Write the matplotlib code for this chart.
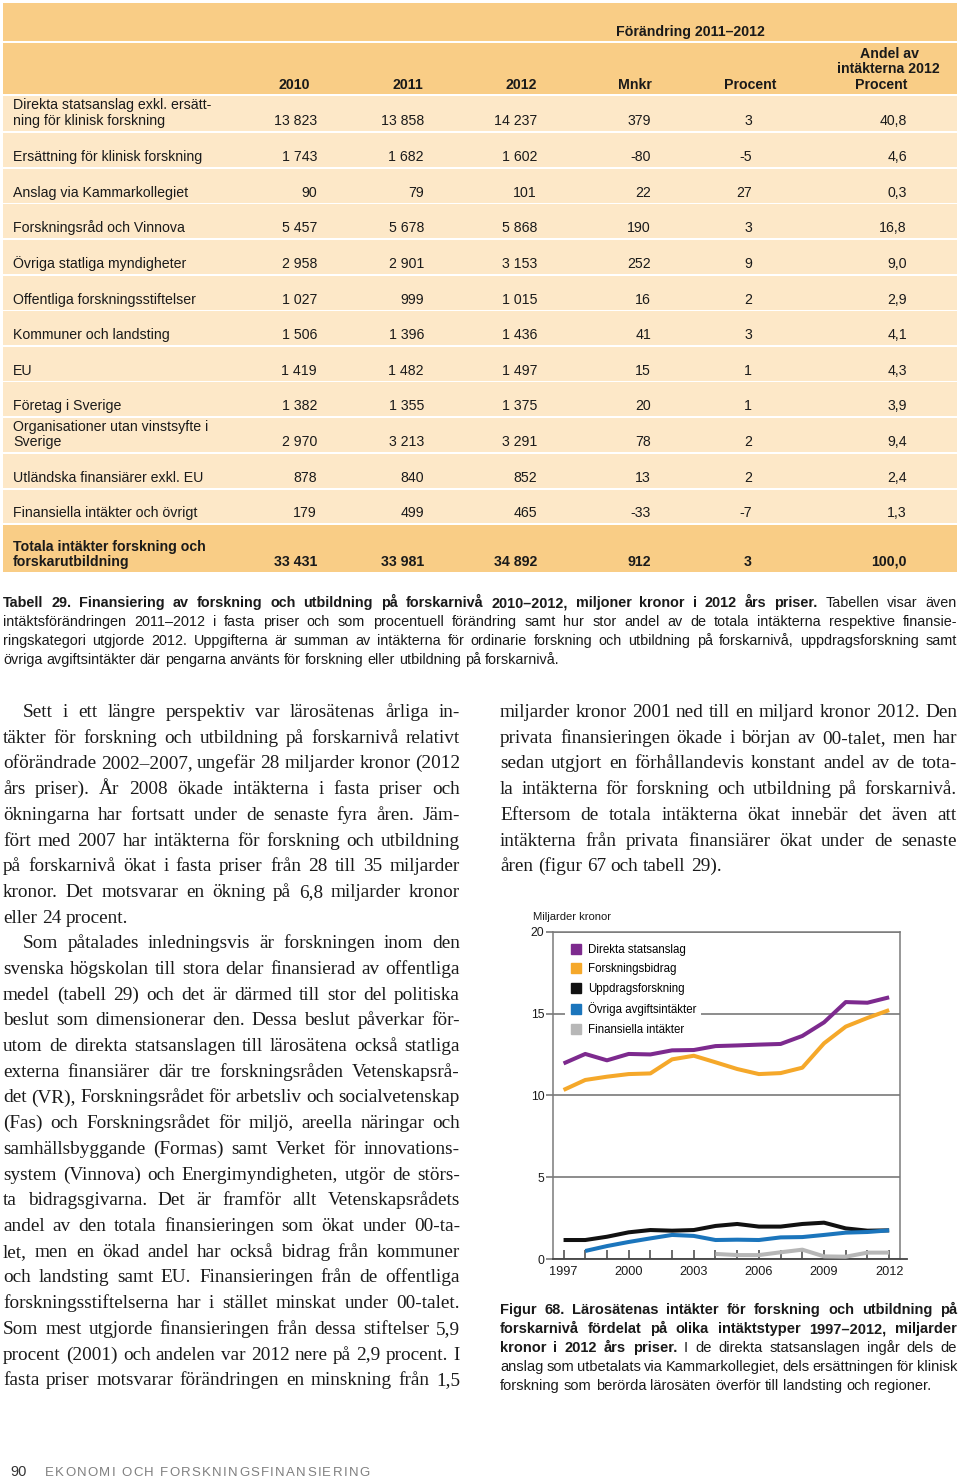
import matplotlib
matplotlib.use("Agg")
import matplotlib.pyplot as plt
from matplotlib.lines import Line2D
from matplotlib.patches import Rectangle

SANS = ["Liberation Sans", "DejaVu Sans"]
SERIF = ["Liberation Serif", "DejaVu Serif"]
plt.rcParams["font.family"] = SANS

W, H = 960, 1477

# ---------------- table data (Tabell 29) ----------------
ROW_LABELS = [
    ["Direkta statsanslag exkl. ersätt-", "ning för klinisk forskning"],
    ["Ersättning för klinisk forskning"],
    ["Anslag via Kammarkollegiet"],
    ["Forskningsråd och Vinnova"],
    ["Övriga statliga myndigheter"],
    ["Offentliga forskningsstiftelser"],
    ["Kommuner och landsting"],
    ["EU"],
    ["Företag i Sverige"],
    ["Organisationer utan vinstsyfte i", "Sverige"],
    ["Utländska finansiärer exkl. EU"],
    ["Finansiella intäkter och övrigt"],
]
V2010 = [13823, 1743, 90, 5457, 2958, 1027, 1506, 1419, 1382, 2970, 878, 179]
V2011 = [13858, 1682, 79, 5678, 2901, 999, 1396, 1482, 1355, 3213, 840, 499]
V2012 = [14237, 1602, 101, 5868, 3153, 1015, 1436, 1497, 1375, 3291, 852, 465]
CHG_MNKR = [379, -80, 22, 190, 252, 16, 41, 15, 20, 78, 13, -33]
CHG_PCT = [3, -5, 27, 3, 9, 2, 3, 1, 1, 2, 2, -7]
SHARE_2012 = [40.8, 4.6, 0.3, 16.8, 9.0, 2.9, 4.1, 4.3, 3.9, 9.4, 2.4, 1.3]
TOTAL_LABEL = ["Totala intäkter forskning och", "forskarutbildning"]
TOTAL = [33431, 33981, 34892, 912, 3, 100.0]
HEADERS = ["2010", "2011", "2012", "Mnkr", "Procent"]

# ---------------- chart data (Figur 68) ----------------
YEARS = [1997, 1998, 1999, 2000, 2001, 2002, 2003, 2004,
         2005, 2006, 2007, 2008, 2009, 2010, 2011, 2012]
DIREKTA = [11.95, 12.53, 12.14, 12.53, 12.50, 12.75, 12.77, 13.01,
           13.05, 13.10, 13.14, 13.63, 14.46, 15.70, 15.66, 15.99]
BIDRAG = [10.33, 10.94, 11.14, 11.30, 11.34, 12.20, 12.42, 12.02,
          11.61, 11.30, 11.36, 11.69, 13.18, 14.20, 14.73, 15.21]
UPPDRAG = [1.16, 1.16, 1.36, 1.63, 1.77, 1.73, 1.77, 2.02,
           2.14, 1.98, 1.98, 2.14, 2.22, 1.87, 1.73, 1.75]
OVRIGA_YEARS = YEARS[1:]
OVRIGA = [0.49, 0.79, 1.04, 1.26, 1.47, 1.41, 1.16,
          1.18, 1.16, 1.32, 1.34, 1.47, 1.61, 1.65, 1.75]
FIN_YEARS = YEARS[7:]
FINANSIELLA = [0.31, 0.24, 0.24, 0.41, 0.57, 0.16, 0.14, 0.39, 0.39]

SERIES = [
    ("Direkta statsanslag", YEARS, DIREKTA, "#7d2a8e"),
    ("Forskningsbidrag", YEARS, BIDRAG, "#f5a82a"),
    ("Uppdragsforskning", YEARS, UPPDRAG, "#111111"),
    ("Övriga avgiftsintäkter", OVRIGA_YEARS, OVRIGA, "#1b75bc"),
    ("Finansiella intäkter", FIN_YEARS, FINANSIELLA, "#b7b7b7"),
]

# ---------------- texts ----------------
TABLE_CAPTION = [
    ("Tabell 29. Finansiering av forskning och utbildning på forskarnivå 2010–2012, miljoner kronor i 2012 års priser.",
     "Tabellen visar även"),
    ("", "intäktsförändringen 2011–2012 i fasta priser och som procentuell förändring samt hur stor andel av de totala intäkterna respektive finansie-"),
    ("", "ringskategori utgjorde 2012. Uppgifterna är summan av intäkterna för ordinarie forskning och utbildning på forskarnivå, uppdragsforskning samt"),
    ("", "övriga avgiftsintäkter där pengarna använts för forskning eller utbildning på forskarnivå."),
]

LEFT_COLUMN = [
    "Sett i ett längre perspektiv var lärosätenas årliga in-",
    "täkter för forskning och utbildning på forskarnivå relativt",
    "oförändrade 2002–2007, ungefär 28 miljarder kronor (2012",
    "års priser). År 2008 ökade intäkterna i fasta priser och",
    "ökningarna har fortsatt under de senaste fyra åren. Jäm-",
    "fört med 2007 har intäkterna för forskning och utbildning",
    "på forskarnivå ökat i fasta priser från 28 till 35 miljarder",
    "kronor. Det motsvarar en ökning på 6,8 miljarder kronor",
    "eller 24 procent.",
    "Som påtalades inledningsvis är forskningen inom den",
    "svenska högskolan till stora delar finansierad av offentliga",
    "medel (tabell 29) och det är därmed till stor del politiska",
    "beslut som dimensionerar den. Dessa beslut påverkar för-",
    "utom de direkta statsanslagen till lärosätena också statliga",
    "externa finansiärer där tre forskningsråden Vetenskapsrå-",
    "det (VR), Forskningsrådet för arbetsliv och socialvetenskap",
    "(Fas) och Forskningsrådet för miljö, areella näringar och",
    "samhällsbyggande (Formas) samt Verket för innovations-",
    "system (Vinnova) och Energimyndigheten, utgör de störs-",
    "ta bidragsgivarna. Det är framför allt Vetenskapsrådets",
    "andel av den totala finansieringen som ökat under 00-ta-",
    "let, men en ökad andel har också bidrag från kommuner",
    "och landsting samt EU. Finansieringen från de offentliga",
    "forskningsstiftelserna har i stället minskat under 00-talet.",
    "Som mest utgjorde finansieringen från dessa stiftelser 5,9",
    "procent (2001) och andelen var 2012 nere på 2,9 procent. I",
    "fasta priser motsvarar förändringen en minskning från 1,5",
]
LEFT_INDENT = [0, 9]      # lines that start a paragraph
LEFT_LAST = [8]           # last line of a paragraph (not justified)

RIGHT_COLUMN = [
    "miljarder kronor 2001 ned till en miljard kronor 2012. Den",
    "privata finansieringen ökade i början av 00-talet, men har",
    "sedan utgjort en förhållandevis konstant andel av de tota-",
    "la intäkterna för forskning och utbildning på forskarnivå.",
    "Eftersom de totala intäkterna ökat innebär det även att",
    "intäkterna från privata finansiärer ökat under de senaste",
    "åren (figur 67 och tabell 29).",
]

FIG_CAPTION = [
    ("Figur 68. Lärosätenas intäkter för forskning och utbildning på", ""),
    ("forskarnivå fördelat på olika intäktstyper 1997–2012, miljarder", ""),
    ("kronor i 2012 års priser.", "I de direkta statsanslagen ingår dels de"),
    ("", "anslag som utbetalats via Kammarkollegiet, dels ersättningen för klinisk"),
    ("", "forskning som berörda lärosäten överför till landsting och regioner."),
]

HEAD_COLOR = "#f9cd86"
BODY_COLOR = "#fde8c8"

fig = plt.figure(figsize=(W / 100, H / 100), dpi=100)
fig.patch.set_facecolor("white")
renderer = fig.canvas.get_renderer()

bg = fig.add_axes([0, 0, 1, 1])
bg.set_xlim(0, W)
bg.set_ylim(H, 0)
bg.axis("off")


def text_width(s, **kw):
    t = bg.text(0, 0, s, **kw)
    w = t.get_window_extent(renderer).width
    t.remove()
    return w


def set_line(tokens, x0, x1, y, justify=True, indent=0, size=10, family=SANS, color="#1a1a1a"):
    """Place words of one line, spreading them to fill x0..x1 when justify is on."""
    while True:
        widths = [text_width(w, fontsize=size, fontweight=fw, family=family) for w, fw in tokens]
        space = text_width("a a", fontsize=size, family=family) - text_width("aa", fontsize=size, family=family)
        if justify and len(tokens) > 1:
            gap = (x1 - x0 - indent - sum(widths)) / (len(tokens) - 1)
            if gap < 0.7 * space:
                size -= 0.1
                continue
        else:
            gap = space
        break
    x = x0 + indent
    for (w, fw), wd in zip(tokens, widths):
        bg.text(x, y, w, ha="left", va="baseline", fontsize=size, fontweight=fw,
                family=family, color=color)
        x += wd + gap


def tokens_of(bold, regular):
    return [(w, "bold") for w in bold.split()] + [(w, "normal") for w in regular.split()]


def fmt_int(v):
    return f"{v:,}".replace(",", " ")


def fmt_dec(v):
    return f"{v:.1f}".replace(".", ",")


# ---------------- table ----------------
bg.add_patch(Rectangle((3, 3), 954, 38, color=HEAD_COLOR, lw=0))
bg.add_patch(Rectangle((3, 43), 954, 51, color=HEAD_COLOR, lw=0))
row_tops = [96, 132.5, 168.5, 204, 239.5, 275.5, 311, 346.5, 382, 417.5, 453.5, 489.5]
row_bots = [131, 167, 203, 238, 274, 310, 345, 381, 416, 452, 488, 523]
for top, bot in zip(row_tops, row_bots):
    bg.add_patch(Rectangle((3, top), 954, bot - top, color=BODY_COLOR, lw=0))
bg.add_patch(Rectangle((3, 525), 954, 47, color=HEAD_COLOR, lw=0))

hdr = dict(fontsize=10.2, fontweight="bold", va="baseline", color="#1a1a1a")
bg.text(690, 36, "Förändring 2011–2012", ha="center", **hdr)
for lab, xr in zip(HEADERS, [310, 423, 537, 652, 776]):
    bg.text(xr, 89, lab, ha="right", **hdr)
bg.text(890, 58, "Andel av", ha="center", **hdr)
bg.text(888, 73, "intäkterna 2012", ha="center", **hdr)
bg.text(881, 89, "Procent", ha="center", **hdr)

col_right = [317, 424, 537, 651, 752, 907]
cell = dict(fontsize=10.2, va="baseline", color="#1a1a1a")
for i, labels in enumerate(ROW_LABELS):
    yb = row_bots[i] - 6
    for j, lab in enumerate(reversed(labels)):
        bg.text(13, yb - 15.5 * j, lab, ha="left", **cell)
    vals = [fmt_int(V2010[i]), fmt_int(V2011[i]), fmt_int(V2012[i]),
            fmt_int(CHG_MNKR[i]), fmt_int(CHG_PCT[i]), fmt_dec(SHARE_2012[i])]
    for v, xr in zip(vals, col_right):
        bg.text(xr, yb, v, ha="right", **cell)

yb = 566
for j, lab in enumerate(reversed(TOTAL_LABEL)):
    bg.text(13, yb - 15.5 * j, lab, ha="left", fontweight="bold", **cell)
tot_vals = [fmt_int(v) for v in TOTAL[:5]] + [fmt_dec(TOTAL[5])]
for v, xr in zip(tot_vals, col_right):
    bg.text(xr, yb, v, ha="right", fontweight="bold", **cell)

# table caption
for k, (b, r) in enumerate(TABLE_CAPTION):
    last = k == len(TABLE_CAPTION) - 1
    set_line(tokens_of(b, r), 3, 957, 607 + 19 * k, justify=not last, size=10.4)

# ---------------- body text columns ----------------
for k, line in enumerate(LEFT_COLUMN):
    set_line(tokens_of("", line), 3, 460, 717 + 25.7 * k,
             justify=k not in LEFT_LAST, indent=20 if k in LEFT_INDENT else 0,
             size=13.9, family=SERIF)
for k, line in enumerate(RIGHT_COLUMN):
    set_line(tokens_of("", line), 500, 957, 717 + 25.7 * k,
             justify=k != len(RIGHT_COLUMN) - 1, size=13.9, family=SERIF)

# ---------------- line chart ----------------
ax = fig.add_axes([552.7 / W, 1 - 1259 / H, 347.3 / W, 327.3 / H])
for name, xs, ys, color in SERIES:
    ax.plot(xs, ys, color=color, lw=2.9, solid_capstyle="butt",
            solid_joinstyle="round", zorder=3)
ax.set_xlim(1996.5, 2012.5)
ax.set_ylim(0, 20)
ax.set_yticks([0, 5, 10, 15, 20])
ax.grid(axis="y", color="#6d6d6d", lw=1.1, zorder=1)
ax.set_axisbelow(True)
ax.set_xticks(YEARS)
ax.set_xticklabels([str(y) if (y - YEARS[0]) % 3 == 0 else "" for y in YEARS])
ax.tick_params(axis="y", direction="out", length=5, width=1.1, color="#6d6d6d",
               pad=1, labelsize=8.8, labelcolor="#1a1a1a")
ax.tick_params(axis="x", direction="in", length=6.5, width=1.1, color="#444444",
               pad=5, labelsize=9.2, labelcolor="#1a1a1a")
for side in ["left", "top", "right"]:
    ax.spines[side].set_color("#7a7a7a")
    ax.spines[side].set_linewidth(1.1)
ax.spines["bottom"].set_color("#444444")
ax.spines["bottom"].set_linewidth(1.3)
ax.spines["bottom"].set_bounds(1996.5, 2012.8)

handles = [Line2D([], [], marker="s", ls="none", markersize=7.5, color=c)
           for _, _, _, c in SERIES]
leg = ax.legend(handles, [s[0] for s in SERIES], loc="upper left",
                bbox_to_anchor=(0.02, 0.995), fontsize=8.3, frameon=True,
                facecolor="white", edgecolor="none", framealpha=1,
                labelspacing=0.66, handletextpad=0.55, borderpad=0.4,
                handlelength=1.0, fancybox=False)
leg.set_zorder(2)
bg.text(533, 920, "Miljarder kronor", ha="left", va="baseline", fontsize=8.1, color="#1a1a1a")

# figure caption
for k, (b, r) in enumerate(FIG_CAPTION):
    last = k == len(FIG_CAPTION) - 1
    set_line(tokens_of(b, r), 500, 957, 1314 + 19 * k, justify=not last, size=10.5)

# ---------------- footer ----------------
bg.text(10, 1476, "90", ha="left", va="baseline", fontsize=10.5, color="#333333")
x = 45
for ch in "EKONOMI OCH FORSKNINGSFINANSIERING":
    if ch != " ":
        bg.text(x, 1476, ch, ha="left", va="baseline", fontsize=9.5, color="#808080")
        x += text_width(ch, fontsize=9.5) + 1.3
    else:
        x += 4.8

fig.savefig("out.png", dpi=100, facecolor="white")
